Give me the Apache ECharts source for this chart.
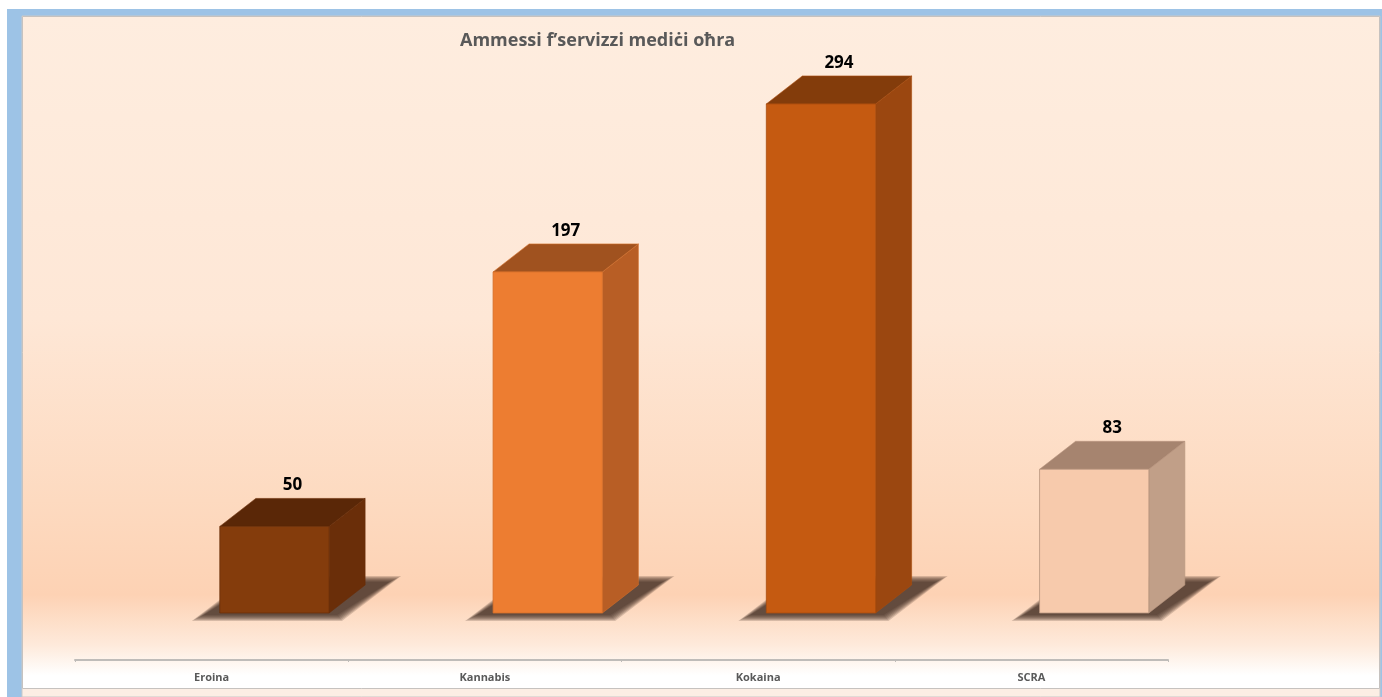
<!DOCTYPE html>
<html>
<head>
<meta charset="utf-8">
<script src="https://cdn.jsdelivr.net/npm/echarts@6/dist/echarts.min.js"></script>
<style>
html,body{margin:0;padding:0;background:#ffffff;}
#c{width:1382px;height:697px;}
</style>
</head>
<body>
<div id="c"></div>
<script>
var titleText = 'Ammessi f\u2019servizzi medi\u010bi o\u0127ra';
var categories = ['Eroina', 'Kannabis', 'Kokaina', 'SCRA'];
var values = [50, 197, 294, 83];

var frontColors = ['#843C0C', '#ED7D31', '#C55A11', '#F7CAAC'];
var topColors   = ['#5A2707', '#A0521F', '#833C0B', '#A6846F'];
var sideColors  = ['#6A2E09', '#B85E25', '#9B4710', '#C19F88'];
var edgeColors  = ['#6A2E09', '#D46E2A', '#A94C0E', '#B8957F'];

var chart = echarts.init(document.getElementById('c'), null, {renderer: 'canvas'});

var DX = 36, DY = 28;

function shadowLayers(x0, x1, yb) {
  var layers = [];
  var bl = [x0 - 16, yb + 2], br = [x1 + 8, yb + 2];
  var tr = [x1 + DX + 24, yb - DY - 3], tl = [x0 + DX, yb - DY - 3];
  for (var k = 12; k >= 0; k -= 2) {
    layers.push({
      type: 'polygon',
      shape: {points: [
        [bl[0] - k, bl[1] + k * 0.5], [br[0] + k * 0.4, br[1] + k * 0.5],
        [tr[0] + k, tr[1] - k * 0.5], [tl[0] - k * 0.4, tl[1] - k * 0.5]
      ]},
      style: {fill: 'rgba(58,40,28,0.2)'}
    });
  }
  return layers;
}

function renderItem(params, api) {
  var idx = api.value(0), v = api.value(1);
  var base = api.coord([idx, 0]);
  var top = api.coord([idx, v]);
  var bw = api.size([1, 0])[0];
  var fw = bw * 0.4;
  var cx = base[0] + bw * 0.23;
  var x0 = cx - fw / 2, x1 = cx + fw / 2;
  var yb = base[1], yt = top[1];
  var i = params.dataIndex;
  var children = shadowLayers(x0, x1, yb).concat([
    {
      type: 'polygon',
      shape: {points: [[x1, yt], [x1 + DX, yt - DY], [x1 + DX, yb - DY], [x1, yb]]},
      style: {fill: sideColors[i], stroke: edgeColors[i], lineWidth: 0.6}
    },
    {
      type: 'polygon',
      shape: {points: [[x0, yt], [x0 + DX, yt - DY], [x1 + DX, yt - DY], [x1, yt]]},
      style: {fill: topColors[i], stroke: edgeColors[i], lineWidth: 0.6}
    },
    {
      type: 'rect',
      shape: {x: x0, y: yt, width: fw, height: yb - yt},
      style: {fill: frontColors[i], stroke: edgeColors[i], lineWidth: 0.8}
    },
    {
      type: 'text',
      x: (x0 + x1 + DX) / 2,
      y: yt - DY - 13,
      style: {
        text: String(v),
        fill: '#000000',
        font: 'bold 17px "Open Sans", Lato, sans-serif',
        align: 'center',
        verticalAlign: 'middle'
      }
    }
  ]);
  return {type: 'group', children: children};
}

var option = {
  animation: false,
  title: {
    text: titleText,
    left: 455,
    top: 27,
    textStyle: {
      fontFamily: '"Open Sans", Lato, sans-serif',
      fontSize: 18,
      fontWeight: 'bold',
      color: '#595959'
    }
  },
  graphic: [
    {type: 'rect', z: -100, shape: {x: 7, y: 9, width: 1375, height: 688}, style: {fill: '#9DC3E6'}},
    {type: 'rect', z: -99, shape: {x: 22, y: 16, width: 1358, height: 681},
     style: {fill: '#FCEEE4', stroke: '#C8C8C8', lineWidth: 1}},
    {type: 'rect', z: -98, shape: {x: 22.5, y: 16.5, width: 1357, height: 672},
     style: {
       stroke: '#C6C2BF', lineWidth: 1,
       fill: {
         type: 'linear', x: 0, y: 0, x2: 0, y2: 1,
         colorStops: [
           {offset: 0, color: '#FEEDDF'},
           {offset: 0.45, color: '#FEE7D6'},
           {offset: 0.72, color: '#FDDAC0'},
           {offset: 0.86, color: '#FDD2B4'},
           {offset: 0.935, color: '#FEEADB'},
           {offset: 0.98, color: '#FFFFFF'},
           {offset: 1, color: '#FFFFFF'}
         ]
       }
     }}
  ],
  grid: [
    {left: 75, right: 214, top: 7, bottom: 84, containLabel: false},
    {left: 75, right: 214, top: 659, height: 1, containLabel: false}
  ],
  xAxis: [
    {
      type: 'category',
      gridIndex: 0,
      data: categories,
      show: false
    },
    {
      type: 'category',
      gridIndex: 1,
      data: categories,
      axisLine: {show: true, lineStyle: {color: '#BFBCB9', width: 2}},
      axisTick: {show: true, length: 2, lineStyle: {color: '#BFBCB9'}},
      axisLabel: {
        margin: 12,
        fontFamily: '"Open Sans", Lato, sans-serif',
        fontSize: 11,
        fontWeight: 'bold',
        color: '#595959'
      },
      splitLine: {show: false}
    }
  ],
  yAxis: [
    {type: 'value', gridIndex: 0, min: 0, max: 350, show: false, splitLine: {show: false}},
    {type: 'value', gridIndex: 1, min: 0, max: 1, show: false, splitLine: {show: false}}
  ],
  series: [{
    type: 'custom',
    xAxisIndex: 0,
    yAxisIndex: 0,
    renderItem: renderItem,
    encode: {x: 0, y: 1},
    data: values.map(function (v, i) { return [i, v]; }),
    clip: false
  }]
};
chart.setOption(option);
</script>
</body>
</html>
